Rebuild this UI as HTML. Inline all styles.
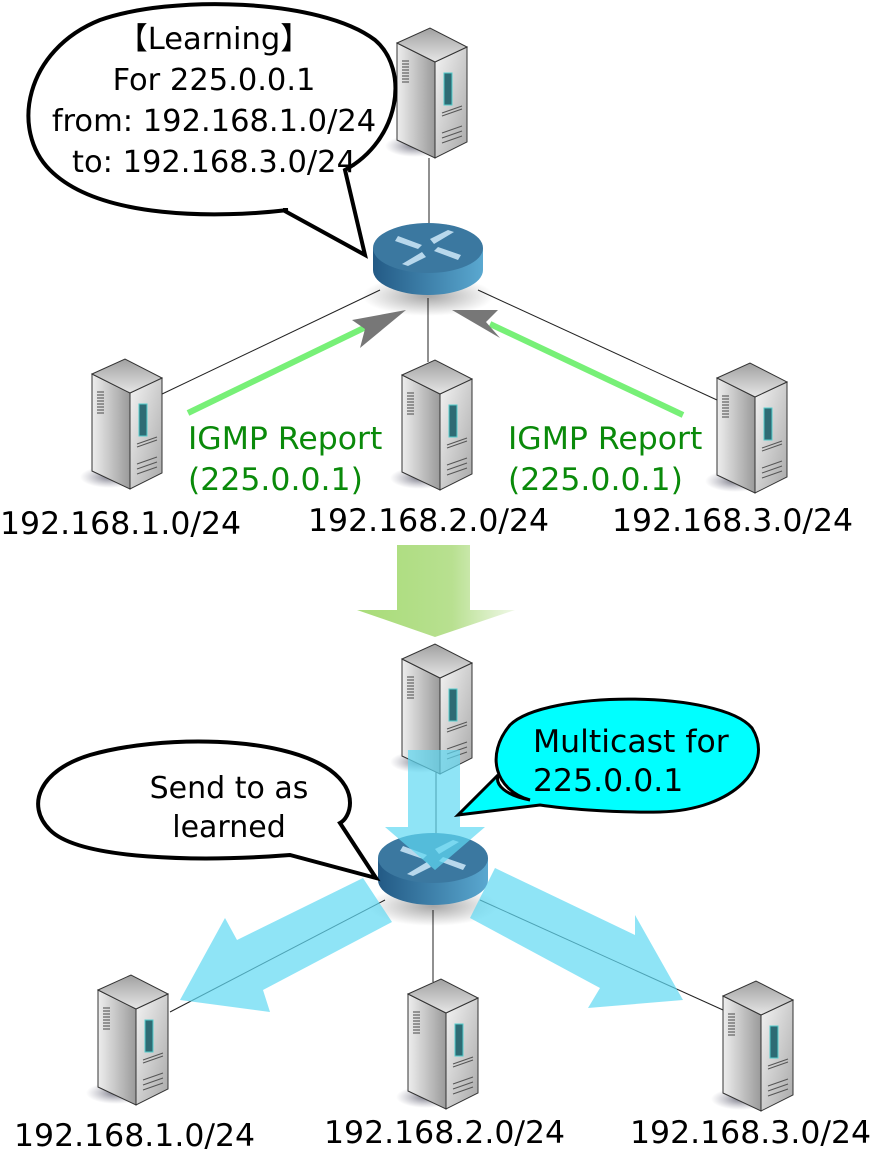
<!DOCTYPE html>
<html><head><meta charset="utf-8"><style>
html,body{margin:0;padding:0;background:#fff}
svg{display:block}
text{font-family:"DejaVu Sans","Liberation Sans",sans-serif}
</style></head><body>
<svg width="872" height="1149" viewBox="0 0 872 1149" xmlns="http://www.w3.org/2000/svg">
<defs>
<linearGradient id="lf" x1="0" y1="0" x2="1" y2="0"><stop offset="0" stop-color="#eeeeee"/><stop offset="1" stop-color="#9a9a9a"/></linearGradient>
<linearGradient id="rf" x1="0" y1="0" x2="1" y2="1"><stop offset="0" stop-color="#f4f4f4"/><stop offset="1" stop-color="#a8a8a8"/></linearGradient>
<linearGradient id="tf" x1="0" y1="0" x2="0" y2="1"><stop offset="0" stop-color="#a0a0a0"/><stop offset="1" stop-color="#e6e6e6"/></linearGradient>
<linearGradient id="rs" x1="0" y1="0" x2="1" y2="0"><stop offset="0" stop-color="#235a85"/><stop offset="1" stop-color="#5aa8d0"/></linearGradient>
<radialGradient id="sh"><stop offset="0" stop-color="#556" stop-opacity=".8"/><stop offset="1" stop-color="#889" stop-opacity="0"/></radialGradient>
<radialGradient id="rsh"><stop offset="0" stop-color="#000" stop-opacity=".35"/><stop offset="1" stop-color="#000" stop-opacity="0"/></radialGradient>
<linearGradient id="gd" x1="0" y1="0" x2="1" y2="0"><stop offset="0" stop-color="#a8dc78"/><stop offset=".6" stop-color="#b8e090"/><stop offset="1" stop-color="#f0f8e8"/></linearGradient>
<g id="srv">
<ellipse cx="18" cy="118" rx="30" ry="11" fill="url(#sh)"/>
<path d="M0 15 L38 34 L38 130 L0 112 Z" fill="url(#lf)" stroke="#333" stroke-width="1"/>
<path d="M38 34 L70 19 L70 114 L38 130 Z" fill="url(#rf)" stroke="#333" stroke-width="1"/>
<path d="M0 15 L33 0 L70 19 L38 34 Z" fill="url(#tf)" stroke="#333" stroke-width="1"/>
<rect x="47" y="45" width="8" height="32" fill="#2e6b74" stroke="#5cc" stroke-width="1"/>
<g stroke="#555" stroke-width="1"><path d="M45 85 L65 78 M45 88 L65 81 M45 105 L65 98 M45 110 L65 103 M45 115 L65 108"/></g>
<g stroke="#666" stroke-width="1.2"><path d="M5 33 h7 M5 36 h7 M5 39 h7 M5 42 h7 M5 45 h7 M5 48 h7 M5 51 h7 M5 54 h7"/></g>
</g>
<g id="rtr">
<ellipse cx="0" cy="48" rx="66" ry="20" fill="url(#rsh)"/>
<path d="M-55 0 L-55 22 A55 25 0 0 0 55 22 L55 0 Z" fill="url(#rs)"/>
<ellipse cx="0" cy="0" rx="55" ry="25" fill="#3b78a0"/>
<g fill="#b8d8ec"><path d="M-30 -12 L-6 -3 L-10 1 L-33 -7Z M30 12 L6 3 L10 -1 L33 7Z M-26 16 L-6 4 L-2 9 L-20 18Z M26 -16 L6 -4 L2 -9 L20 -18Z"/></g>
</g>
</defs>

<g stroke="#222" stroke-width="1" fill="none">
<path d="M429 158 L429 240"/>
<path d="M380 290 L160 395"/>
<path d="M428 298 L428 362"/>
<path d="M478 290 L717 400"/>
</g>
<use href="#srv" x="397" y="28"/>
<use href="#srv" x="92" y="359"/>
<use href="#srv" x="402" y="360"/>
<use href="#srv" x="717" y="363"/>
<use href="#rtr" x="428" y="248"/>

<path d="M188 413 L370 325" stroke="#77f077" stroke-width="6"/>
<path d="M406 310 L352 320 L365 329 L360 348 Z" fill="#777"/>
<path d="M683 415 L490 324" stroke="#77f077" stroke-width="6"/>
<path d="M452 310 L498 310 L486 322 L500 338 Z" fill="#777"/>
<g fill="#0a8a0a" font-size="31.5">
<text x="188" y="449">IGMP Report</text><text x="188" y="490">(225.0.0.1)</text>
<text x="508" y="449">IGMP Report</text><text x="508" y="490">(225.0.0.1)</text>
</g>
<g font-size="31.5" fill="#000">
<text x="0" y="534">192.168.1.0/24</text>
<text x="308" y="531">192.168.2.0/24</text>
<text x="612" y="531">192.168.3.0/24</text>
</g>

<path d="M288 210 C220 218 100 220 50 170 C10 130 25 50 100 20 C170 -5 320 -2 375 40 C410 70 400 140 345 170 L365 255 L283 210 Z" fill="#fff" stroke="#000" stroke-width="4"/>
<g font-size="30.5" text-anchor="middle" fill="#000">
<text x="214" y="49">【Learning】</text>
<text x="214" y="90">For 225.0.0.1</text>
<text x="214" y="131">from: 192.168.1.0/24</text>
<text x="214" y="172">to: 192.168.3.0/24</text>
</g>

<path d="M397 545 L470 545 L470 610 L515 610 L435 637 L357 610 L397 610 Z" fill="url(#gd)"/>

<g stroke="#222" stroke-width="1" fill="none">
<path d="M436 760 L436 855"/>
<path d="M385 900 L170 1012"/>
<path d="M433 910 L433 982"/>
<path d="M480 900 L723 1010"/>
</g>
<use href="#srv" x="402" y="644"/>
<use href="#rtr" x="433" y="858"/>
<use href="#srv" x="98" y="975"/>
<use href="#srv" x="408" y="979"/>
<use href="#srv" x="723" y="981"/>

<g fill="#5fd8f2" fill-opacity=".7">
<path d="M408 750 L460 750 L460 827 L485 827 L435 870 L385 827 L408 827 Z"/>
<path d="M363 878 L392 922 L263 990 L270 1012 L180 1000 L225 918 L237 940 Z"/>
<path d="M495 868 L635 935 L635 915 L683 1000 L588 1008 L600 988 L470 918 Z"/>
</g>

<path d="M290 855 C200 862 80 860 50 830 C25 805 40 770 90 755 C160 735 280 735 330 770 C360 792 350 818 340 823 L376 878 Z" fill="#fff" stroke="#000" stroke-width="4"/>
<g font-size="30" text-anchor="middle" fill="#000">
<text x="229" y="798">Send to as</text>
<text x="229" y="837">learned</text>
</g>
<path d="M530 800 C495 790 485 755 510 725 C545 690 720 690 752 728 C775 765 735 810 660 812 C610 813 560 808 540 805 L458 815 L498 775 C495 785 505 795 530 800 Z" fill="#00ffff" stroke="#000" stroke-width="3"/>
<g font-size="31.5" fill="#000">
<text x="533" y="752">Multicast for</text>
<text x="533" y="791">225.0.0.1</text>
</g>

<g font-size="31.5" fill="#000">
<text x="14" y="1146">192.168.1.0/24</text>
<text x="324" y="1143">192.168.2.0/24</text>
<text x="630" y="1143">192.168.3.0/24</text>
</g>
</svg>
</body></html>
